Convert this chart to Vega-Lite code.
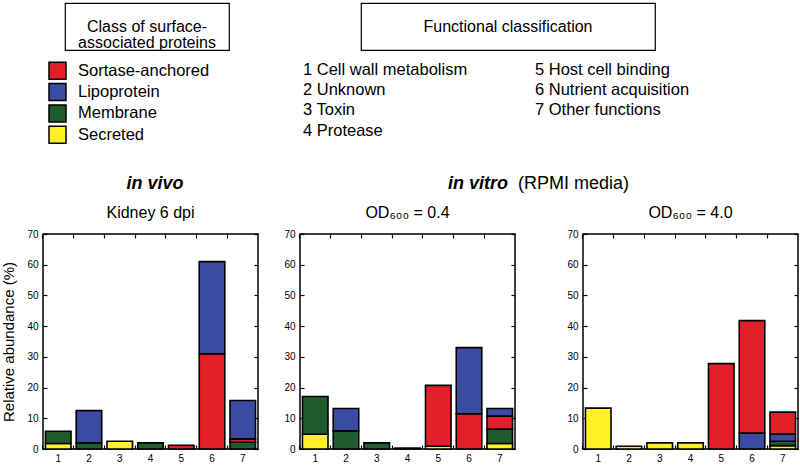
{
  "$schema": "https://vega.github.io/schema/vega-lite/v6.json",
  "padding": {"top": 2, "left": 0, "right": 0, "bottom": 0},
  "background": "white",
  "config": {
    "font": "Liberation Sans",
    "view": {"stroke": null},
    "title": {"font": "Liberation Sans", "color": "black", "fontWeight": "normal"},
    "text": {"font": "Liberation Sans", "color": "black"},
    "axis": {"labelFont": "Liberation Sans", "labelColor": "black", "titleFont": "Liberation Sans", "titleColor": "black", "titleFontWeight": "normal", "grid": false, "domain": false, "tickColor": "black", "tickWidth": 1.2}
  },
  "data": {"values": [
    {"panel": "vivo", "fn": 1, "cls": "Secreted", "v": 1.8},
    {"panel": "vivo", "fn": 1, "cls": "Membrane", "v": 4.0},
    {"panel": "vivo", "fn": 2, "cls": "Membrane", "v": 2.0},
    {"panel": "vivo", "fn": 2, "cls": "Lipoprotein", "v": 10.5},
    {"panel": "vivo", "fn": 3, "cls": "Secreted", "v": 2.5},
    {"panel": "vivo", "fn": 4, "cls": "Membrane", "v": 2.0},
    {"panel": "vivo", "fn": 5, "cls": "Sortase-anchored", "v": 1.2},
    {"panel": "vivo", "fn": 6, "cls": "Sortase-anchored", "v": 31.0},
    {"panel": "vivo", "fn": 6, "cls": "Lipoprotein", "v": 30.0},
    {"panel": "vivo", "fn": 7, "cls": "Membrane", "v": 2.2},
    {"panel": "vivo", "fn": 7, "cls": "Sortase-anchored", "v": 1.1},
    {"panel": "vivo", "fn": 7, "cls": "Lipoprotein", "v": 12.5},
    {"panel": "od04", "fn": 1, "cls": "Secreted", "v": 4.8},
    {"panel": "od04", "fn": 1, "cls": "Membrane", "v": 12.3},
    {"panel": "od04", "fn": 2, "cls": "Membrane", "v": 5.9},
    {"panel": "od04", "fn": 2, "cls": "Lipoprotein", "v": 7.3},
    {"panel": "od04", "fn": 3, "cls": "Membrane", "v": 2.0},
    {"panel": "od04", "fn": 4, "cls": "Membrane", "v": 0.3},
    {"panel": "od04", "fn": 5, "cls": "Secreted", "v": 0.9},
    {"panel": "od04", "fn": 5, "cls": "Sortase-anchored", "v": 19.8},
    {"panel": "od04", "fn": 6, "cls": "Sortase-anchored", "v": 11.5},
    {"panel": "od04", "fn": 6, "cls": "Lipoprotein", "v": 21.5},
    {"panel": "od04", "fn": 7, "cls": "Secreted", "v": 1.8},
    {"panel": "od04", "fn": 7, "cls": "Membrane", "v": 4.7},
    {"panel": "od04", "fn": 7, "cls": "Sortase-anchored", "v": 4.2},
    {"panel": "od04", "fn": 7, "cls": "Lipoprotein", "v": 2.5},
    {"panel": "od40", "fn": 1, "cls": "Secreted", "v": 13.3},
    {"panel": "od40", "fn": 2, "cls": "Secreted", "v": 0.9},
    {"panel": "od40", "fn": 3, "cls": "Secreted", "v": 2.0},
    {"panel": "od40", "fn": 4, "cls": "Secreted", "v": 2.0},
    {"panel": "od40", "fn": 5, "cls": "Sortase-anchored", "v": 27.8},
    {"panel": "od40", "fn": 6, "cls": "Lipoprotein", "v": 5.2},
    {"panel": "od40", "fn": 6, "cls": "Sortase-anchored", "v": 36.6},
    {"panel": "od40", "fn": 7, "cls": "Secreted", "v": 1.1},
    {"panel": "od40", "fn": 7, "cls": "Membrane", "v": 1.4},
    {"panel": "od40", "fn": 7, "cls": "Lipoprotein", "v": 2.4},
    {"panel": "od40", "fn": 7, "cls": "Sortase-anchored", "v": 7.1}
  ]},
  "spacing": 0,
  "vconcat": [
    {"hconcat": [
      {"width": 65, "height": 1, "data": {"values": []}, "mark": {"type": "point", "opacity": 0}, "encoding": {}},
      {"width": 164, "height": 47, "view": {"stroke": "black", "strokeWidth": 1.2},
       "data": {"values": [{"t": "Class of surface-\nassociated proteins"}]},
       "mark": {"type": "text", "fontSize": 16, "lineBreak": "\n", "lineHeight": 16, "baseline": "middle", "align": "center"},
       "encoding": {"text": {"field": "t"}}},
      {"width": 132, "height": 1, "data": {"values": []}, "mark": {"type": "point", "opacity": 0}, "encoding": {}},
      {"width": 294, "height": 47, "view": {"stroke": "black", "strokeWidth": 1.2},
       "data": {"values": [{"t": "Functional classification"}]},
       "mark": {"type": "text", "fontSize": 16, "baseline": "middle", "align": "center"},
       "encoding": {"text": {"field": "t"}}}
    ], "bounds": "flush", "spacing": 0},
    {"hconcat": [
      {"width": 49, "height": 1, "data": {"values": []}, "mark": {"type": "point", "opacity": 0}, "encoding": {}},
      {"width": 17, "height": 101.5,
       "data": {"values": [{"cls": "Sortase-anchored"}, {"cls": "Lipoprotein"}, {"cls": "Membrane"}, {"cls": "Secreted"}]},
       "encoding": {
         "y": {"field": "cls", "type": "nominal", "sort": ["Sortase-anchored", "Lipoprotein", "Membrane", "Secreted"], "scale": {"type": "point", "padding": 0.883}, "axis": null}
       },
       "layer": [
         {"mark": {"type": "square", "size": 289, "opacity": 1, "stroke": "black", "strokeWidth": 1.5},
          "encoding": {"fill": {"field": "cls", "type": "nominal", "scale": {"domain": ["Sortase-anchored", "Lipoprotein", "Membrane", "Secreted"], "range": ["#E3202A", "#3A4BA2", "#1E5B2F", "#FFF125"]}, "legend": null}}},
         {"mark": {"type": "text", "fontSize": 16.5, "align": "left", "baseline": "middle", "dx": 20.5},
          "encoding": {"text": {"field": "cls"}}}
       ]},
      {"width": 237, "height": 1, "data": {"values": []}, "mark": {"type": "point", "opacity": 0}, "encoding": {}},
      {"width": 232, "height": 96.5,
       "data": {"values": [
         {"n": 1, "name": "Cell wall metabolism"},
         {"n": 2, "name": "Unknown"},
         {"n": 3, "name": "Toxin"},
         {"n": 4, "name": "Protease"},
         {"n": 5, "name": "Host cell binding"},
         {"n": 6, "name": "Nutrient acquisition"},
         {"n": 7, "name": "Other functions"}
       ]},
       "transform": [
         {"calculate": "datum.n <= 4 ? 'a' : 'b'", "as": "col"},
         {"calculate": "datum.n <= 4 ? datum.n : datum.n - 4", "as": "row"},
         {"calculate": "datum.n + ' ' + datum.name", "as": "label"}
       ],
       "mark": {"type": "text", "fontSize": 16.5, "align": "left", "baseline": "middle"},
       "encoding": {
         "x": {"field": "col", "type": "nominal", "scale": {"type": "point", "padding": 0}, "axis": null},
         "y": {"field": "row", "type": "ordinal", "scale": {"type": "point", "padding": 0.877}, "axis": null},
         "text": {"field": "label"}
       }}
    ], "bounds": "flush", "spacing": 0},
    {"hconcat": [
      {"width": 43, "height": 1, "data": {"values": []}, "mark": {"type": "point", "opacity": 0}, "encoding": {}},
      {"width": 215, "height": 73.5,
       "layer": [
         {"data": {"values": [{"t": "in vivo"}]},
          "mark": {"type": "text", "fontSize": 18, "fontWeight": "bold", "fontStyle": "italic", "align": "center", "baseline": "middle", "dx": 4.5, "dy": -6.5},
          "encoding": {"text": {"field": "t"}}},
         {"data": {"values": [{"t": "Kidney 6 dpi"}]},
          "mark": {"type": "text", "fontSize": 16, "align": "center", "baseline": "middle", "dy": 22.5},
          "encoding": {"text": {"field": "t"}}}
       ]},
      {"width": 42, "height": 1, "data": {"values": []}, "mark": {"type": "point", "opacity": 0}, "encoding": {}},
      {"width": 215, "height": 73.5,
       "layer": [
         {"data": {"values": [{"t": "in vitro"}]},
          "mark": {"type": "text", "fontSize": 18, "fontWeight": "bold", "fontStyle": "italic", "align": "right", "baseline": "middle", "dx": 100.5, "dy": -6.5},
          "encoding": {"text": {"field": "t"}}},
         {"data": {"values": [{"t": "(RPMI media)"}]},
          "mark": {"type": "text", "fontSize": 18, "align": "left", "baseline": "middle", "dx": 110.5, "dy": -6.5},
          "encoding": {"text": {"field": "t"}}},
         {"data": {"values": [{"t": "OD₆₀₀ = 0.4"}]},
          "mark": {"type": "text", "fontSize": 16, "align": "center", "baseline": "middle", "dy": 22.5},
          "encoding": {"text": {"field": "t"}}}
       ]},
      {"width": 68, "height": 1, "data": {"values": []}, "mark": {"type": "point", "opacity": 0}, "encoding": {}},
      {"width": 215, "height": 73.5,
       "data": {"values": [{"t": "OD₆₀₀ = 4.0"}]},
       "mark": {"type": "text", "fontSize": 16, "align": "center", "baseline": "middle", "dy": 22.5},
       "encoding": {"text": {"field": "t"}}}
    ], "bounds": "flush", "spacing": 0},
    {"hconcat": [
      {"width": 43, "height": 1, "data": {"values": []}, "mark": {"type": "point", "opacity": 0}, "encoding": {}},
      {"width": 215, "height": 215,
       "view": {"stroke": "black", "strokeWidth": 1.5},
       "transform": [
         {"filter": "datum.panel == 'vivo'"},
         {"calculate": "datum.cls == 'Secreted' ? 1 : datum.cls == 'Membrane' ? 2 : ((datum.cls == 'Lipoprotein') == (datum.panel == 'od40') ? 3 : 4)", "as": "ord"}
       ],
       "layer": [
         {"mark": {"type": "bar", "stroke": "black", "strokeWidth": 1.6},
          "encoding": {
            "x": {"field": "fn", "type": "ordinal", "scale": {"domain": [1, 2, 3, 4, 5, 6, 7], "paddingInner": 0.17, "paddingOuter": 0.08},
                  "axis": {"orient": "bottom", "title": null, "labelAngle": 0, "labelFontSize": 10, "tickSize": -4, "labelPadding": 8, "bandPosition": -0.1025}},
            "y": {"field": "v", "type": "quantitative", "stack": "zero", "scale": {"domain": [0, 70], "nice": false},
                  "axis": {"orient": "left", "values": [0, 10, 20, 30, 40, 50, 60, 70], "title": "Relative abundance (%)", "titleFontSize": 15, "titlePadding": 10, "labelFontSize": 10, "tickSize": -4, "labelPadding": 9}},
            "fill": {"field": "cls", "type": "nominal", "scale": {"domain": ["Sortase-anchored", "Lipoprotein", "Membrane", "Secreted"], "range": ["#E3202A", "#3A4BA2", "#1E5B2F", "#FFF125"]}, "legend": null},
            "order": {"field": "ord", "type": "quantitative"}
          }},
         {"mark": {"type": "point", "opacity": 0},
          "encoding": {
            "x": {"field": "fn", "type": "ordinal", "axis": {"orient": "top", "title": null, "labels": false, "tickSize": -4, "bandPosition": -0.1025}},
            "y": {"field": "v", "type": "quantitative", "scale": {"domain": [0, 70], "nice": false}, "axis": {"orient": "right", "title": null, "labels": false, "values": [0, 10, 20, 30, 40, 50, 60, 70], "tickSize": -4}}
          }}
       ],
       "resolve": {"axis": {"x": "independent", "y": "independent"}}},
      {"width": 42, "height": 1, "data": {"values": []}, "mark": {"type": "point", "opacity": 0}, "encoding": {}},
      {"width": 215, "height": 215,
       "view": {"stroke": "black", "strokeWidth": 1.5},
       "transform": [
         {"filter": "datum.panel == 'od04'"},
         {"calculate": "datum.cls == 'Secreted' ? 1 : datum.cls == 'Membrane' ? 2 : ((datum.cls == 'Lipoprotein') == (datum.panel == 'od40') ? 3 : 4)", "as": "ord"}
       ],
       "layer": [
         {"mark": {"type": "bar", "stroke": "black", "strokeWidth": 1.6},
          "encoding": {
            "x": {"field": "fn", "type": "ordinal", "scale": {"domain": [1, 2, 3, 4, 5, 6, 7], "paddingInner": 0.17, "paddingOuter": 0.08},
                  "axis": {"orient": "bottom", "title": null, "labelAngle": 0, "labelFontSize": 10, "tickSize": -4, "labelPadding": 8, "bandPosition": -0.1025}},
            "y": {"field": "v", "type": "quantitative", "stack": "zero", "scale": {"domain": [0, 70], "nice": false},
                  "axis": {"orient": "left", "values": [0, 10, 20, 30, 40, 50, 60, 70], "title": null, "labelFontSize": 10, "tickSize": -4, "labelPadding": 9}},
            "fill": {"field": "cls", "type": "nominal", "scale": {"domain": ["Sortase-anchored", "Lipoprotein", "Membrane", "Secreted"], "range": ["#E3202A", "#3A4BA2", "#1E5B2F", "#FFF125"]}, "legend": null},
            "order": {"field": "ord", "type": "quantitative"}
          }},
         {"mark": {"type": "point", "opacity": 0},
          "encoding": {
            "x": {"field": "fn", "type": "ordinal", "axis": {"orient": "top", "title": null, "labels": false, "tickSize": -4, "bandPosition": -0.1025}},
            "y": {"field": "v", "type": "quantitative", "scale": {"domain": [0, 70], "nice": false}, "axis": {"orient": "right", "title": null, "labels": false, "values": [0, 10, 20, 30, 40, 50, 60, 70], "tickSize": -4}}
          }}
       ],
       "resolve": {"axis": {"x": "independent", "y": "independent"}}},
      {"width": 68, "height": 1, "data": {"values": []}, "mark": {"type": "point", "opacity": 0}, "encoding": {}},
      {"width": 215, "height": 215,
       "view": {"stroke": "black", "strokeWidth": 1.5},
       "transform": [
         {"filter": "datum.panel == 'od40'"},
         {"calculate": "datum.cls == 'Secreted' ? 1 : datum.cls == 'Membrane' ? 2 : ((datum.cls == 'Lipoprotein') == (datum.panel == 'od40') ? 3 : 4)", "as": "ord"}
       ],
       "layer": [
         {"mark": {"type": "bar", "stroke": "black", "strokeWidth": 1.6},
          "encoding": {
            "x": {"field": "fn", "type": "ordinal", "scale": {"domain": [1, 2, 3, 4, 5, 6, 7], "paddingInner": 0.17, "paddingOuter": 0.08},
                  "axis": {"orient": "bottom", "title": null, "labelAngle": 0, "labelFontSize": 10, "tickSize": -4, "labelPadding": 8, "bandPosition": -0.1025}},
            "y": {"field": "v", "type": "quantitative", "stack": "zero", "scale": {"domain": [0, 70], "nice": false},
                  "axis": {"orient": "left", "values": [0, 10, 20, 30, 40, 50, 60, 70], "title": null, "labelFontSize": 10, "tickSize": -4, "labelPadding": 9}},
            "fill": {"field": "cls", "type": "nominal", "scale": {"domain": ["Sortase-anchored", "Lipoprotein", "Membrane", "Secreted"], "range": ["#E3202A", "#3A4BA2", "#1E5B2F", "#FFF125"]}, "legend": null},
            "order": {"field": "ord", "type": "quantitative"}
          }},
         {"mark": {"type": "point", "opacity": 0},
          "encoding": {
            "x": {"field": "fn", "type": "ordinal", "axis": {"orient": "top", "title": null, "labels": false, "tickSize": -4, "bandPosition": -0.1025}},
            "y": {"field": "v", "type": "quantitative", "scale": {"domain": [0, 70], "nice": false}, "axis": {"orient": "right", "title": null, "labels": false, "values": [0, 10, 20, 30, 40, 50, 60, 70], "tickSize": -4}}
          }}
       ],
       "resolve": {"axis": {"x": "independent", "y": "independent"}}}
    ], "bounds": "flush", "spacing": 0}
  ]
}
